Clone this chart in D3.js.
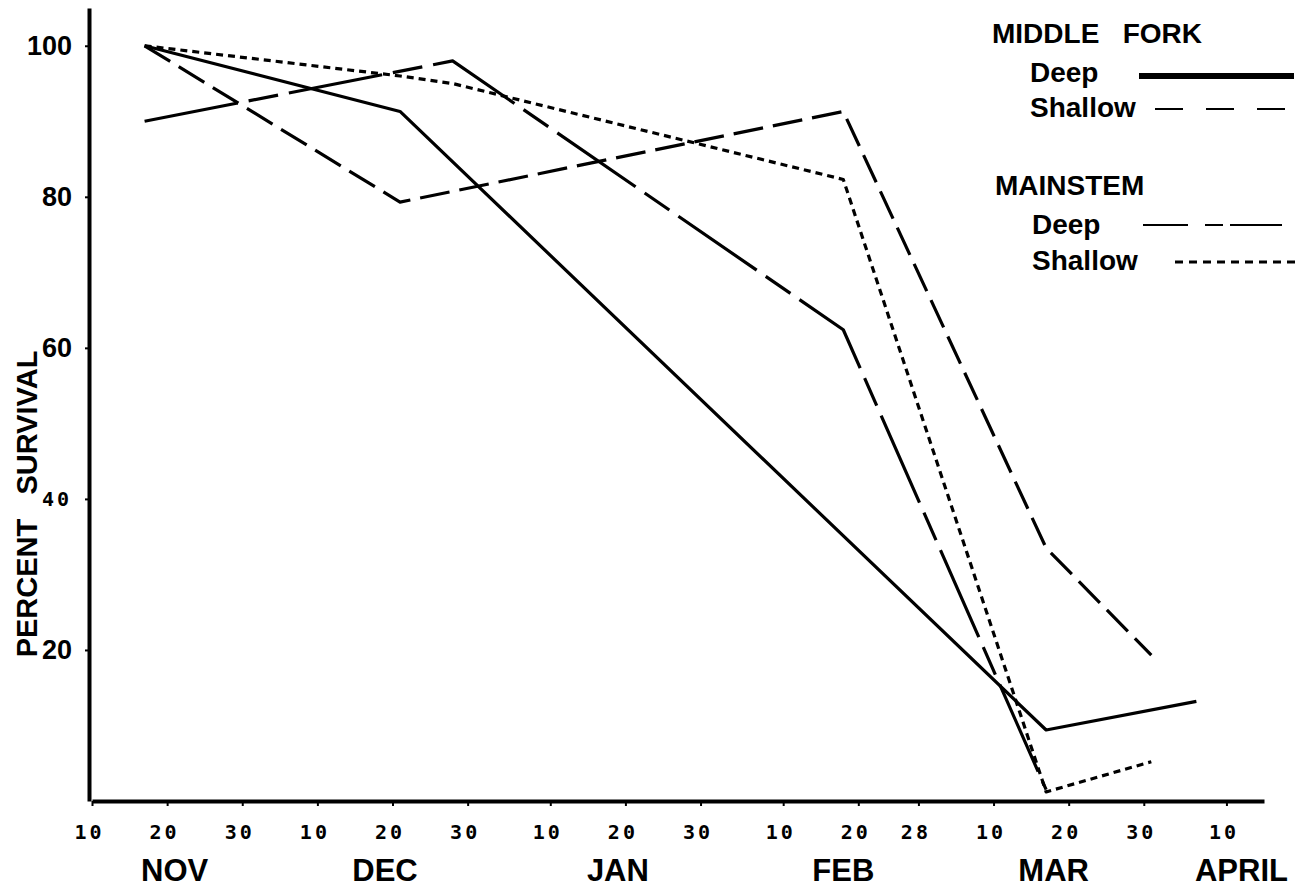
<!DOCTYPE html>
<html>
<head>
<meta charset="utf-8">
<script src="https://cdn.jsdelivr.net/npm/d3@7"></script>
<style>
body { margin: 0; background: #fff; }
svg { display: block; background: #fff; }
.lbl { font-family: "Liberation Sans", Arial, sans-serif; font-weight: bold; fill: #000; }
.mono { font-family: "DejaVu Sans Mono", monospace; font-weight: bold; fill: #000; letter-spacing: 3px; }
</style>
</head>
<body>
<svg width="1308" height="889"></svg>
<script>
// sampling dates (winter season, Feb has 28 days)
var dates = ["1978-11-17", "1978-12-21", "1978-12-28", "1979-02-18", "1979-03-17", "1979-03-31", "1979-04-06"];

// percent survival, null = not sampled
var mfDeep    = [100, 91.3, null, null, 9.4, null, 13.2];
var mfShallow = [100, 79.3, null, 91.3, 33.5, 19.3, null];
var msDeep    = [90, null, 98, 62.4, 1.5, null, null];
var msShallow = [100, 96, 95, 82.3, 1.2, 5.2, null];

var xTickDates = ["1978-11-10", "1978-11-20", "1978-11-30", "1978-12-10", "1978-12-20", "1978-12-30",
                  "1979-01-10", "1979-01-20", "1979-01-30", "1979-02-10", "1979-02-20", "1979-02-28",
                  "1979-03-10", "1979-03-20", "1979-03-30", "1979-04-10"];
var monthLabels = ["NOV", "DEC", "JAN", "FEB", "MAR", "APRIL"];
var monthDates  = ["1978-11-21", "1978-12-19", "1979-01-19", "1979-02-18", "1979-03-18", "1979-04-12"];
var yTicks = [20, 40, 60, 80, 100];

var parse = d3.utcParse("%Y-%m-%d");
var svg = d3.select("svg");

var x = d3.scaleUtc()
  .domain([parse("1978-11-10"), parse("1979-04-15")])
  .range([92, 1264]);

var y = d3.scaleLinear()
  .domain([0, 105])
  .range([801, 8]);

// x axis
var xAxis = d3.axisBottom(x)
  .tickValues(xTickDates.map(parse))
  .tickFormat(d3.utcFormat("%d"))
  .tickSize(5)
  .tickSizeOuter(0);

var gx = svg.append("g")
  .attr("transform", "translate(0," + y(0) + ")")
  .call(xAxis);
gx.select(".domain").attr("stroke-width", 4);
gx.selectAll(".tick line").attr("stroke-width", 2);
gx.selectAll(".tick text")
  .attr("class", "mono")
  .attr("font-size", 20)
  .attr("y", 38)
  .attr("dx", -3)
  .attr("dy", 0);

// month names
svg.selectAll(".month")
  .data(monthLabels)
  .enter().append("text")
  .attr("class", "lbl month")
  .attr("font-size", 31)
  .attr("text-anchor", "middle")
  .attr("x", function(d, i) { return x(parse(monthDates[i])); })
  .attr("y", 881)
  .text(function(d) { return d; });

// y axis
var yAxis = d3.axisLeft(y)
  .tickValues(yTicks)
  .tickSize(4)
  .tickSizeOuter(0)
  .tickPadding(13);

var gy = svg.append("g")
  .attr("transform", "translate(89,0)")
  .call(yAxis);
gy.select(".domain").attr("stroke-width", 4);
gy.selectAll(".tick line").attr("stroke-width", 2);
gy.selectAll(".tick text")
  .attr("class", "lbl")
  .attr("font-size", 27);
// the 40 was typed in the typewriter face
gy.selectAll(".tick text").filter(function(d) { return d === 40; })
  .attr("class", "mono")
  .attr("font-size", 20);

svg.append("text")
  .attr("class", "lbl")
  .attr("font-size", 29)
  .attr("text-anchor", "middle")
  .attr("transform", "translate(37,504) rotate(-90)")
  .style("white-space", "pre")
  .text("PERCENT   SURVIVAL");

// lines
var line = d3.line()
  .x(function(p) { return x(p.d); })
  .y(function(p) { return y(p.v); });

function pts(arr) {
  return dates.map(function(d, i) { return { d: parse(d), v: arr[i] }; })
    .filter(function(p) { return p.v !== null; });
}

var series = [
  { values: mfDeep,    w: 3.2, dash: null },
  { values: mfShallow, w: 3.2, dash: "30,10" },
  { values: msDeep,    w: 3.2, dash: "95,11,30,11" },
  { values: msShallow, w: 3.2, dash: "7,5" }
];

svg.selectAll(".series")
  .data(series)
  .enter().append("path")
  .attr("class", "series")
  .attr("fill", "none")
  .attr("stroke", "#000")
  .attr("stroke-width", function(s) { return s.w; })
  .attr("stroke-linejoin", "round")
  .attr("stroke-dasharray", function(s) { return s.dash; })
  .attr("d", function(s) { return line(pts(s.values)); });

// legend
var lg = svg.append("g");
lg.append("text").attr("class", "lbl").attr("font-size", 28).attr("x", 992).attr("y", 43)
  .style("white-space", "pre").text("MIDDLE   FORK");
lg.append("text").attr("class", "lbl").attr("font-size", 28).attr("x", 1030).attr("y", 82).text("Deep");
lg.append("text").attr("class", "lbl").attr("font-size", 28).attr("x", 1030).attr("y", 117).text("Shallow");
lg.append("text").attr("class", "lbl").attr("font-size", 28).attr("x", 995).attr("y", 195).text("MAINSTEM");
lg.append("text").attr("class", "lbl").attr("font-size", 28).attr("x", 1032).attr("y", 234).text("Deep");
lg.append("text").attr("class", "lbl").attr("font-size", 28).attr("x", 1032).attr("y", 270).text("Shallow");

var legendLines = [
  { x1: 1139, x2: 1294, y: 76,  w: 6, dash: null },
  { x1: 1155, x2: 1294, y: 109, w: 2, dash: "28,23" },
  { x1: 1143, x2: 1282, y: 225, w: 2, dash: "45,17,18,7,52" },
  { x1: 1175, x2: 1300, y: 262, w: 3, dash: "8,6" }
];
lg.selectAll("line")
  .data(legendLines)
  .enter().append("line")
  .attr("x1", function(d) { return d.x1; })
  .attr("x2", function(d) { return d.x2; })
  .attr("y1", function(d) { return d.y; })
  .attr("y2", function(d) { return d.y; })
  .attr("stroke", "#000")
  .attr("stroke-width", function(d) { return d.w; })
  .attr("stroke-dasharray", function(d) { return d.dash; });
</script>
</body>
</html>
